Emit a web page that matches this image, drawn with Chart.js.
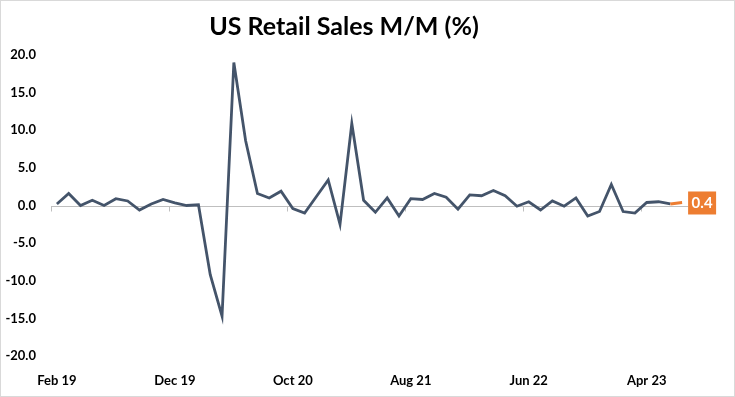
<!DOCTYPE html>
<html>
<head>
<meta charset="utf-8">
<script src="https://cdn.jsdelivr.net/npm/chart.js@4"></script>
<style>
  html, body { margin: 0; padding: 0; background: #fff; }
  #wrap { width: 735px; height: 397px; position: relative; }
</style>
</head>
<body>
<div id="wrap"><canvas id="salesChart"></canvas></div>
<script>
const months = [
  'Feb 19','Mar 19','Apr 19','May 19','Jun 19','Jul 19','Aug 19','Sep 19','Oct 19','Nov 19','Dec 19',
  'Jan 20','Feb 20','Mar 20','Apr 20','May 20','Jun 20','Jul 20','Aug 20','Sep 20','Oct 20','Nov 20','Dec 20',
  'Jan 21','Feb 21','Mar 21','Apr 21','May 21','Jun 21','Jul 21','Aug 21','Sep 21','Oct 21','Nov 21','Dec 21',
  'Jan 22','Feb 22','Mar 22','Apr 22','May 22','Jun 22','Jul 22','Aug 22','Sep 22','Oct 22','Nov 22','Dec 22',
  'Jan 23','Feb 23','Mar 23','Apr 23','May 23','Jun 23','Jul 23'
];
const retailMoM = [
  0.2, 1.6, 0.0, 0.7, 0.0, 0.9, 0.6, -0.6, 0.2, 0.8, 0.35,
  0.0, 0.1, -9.2, -14.7, 19.0, 8.6, 1.6, 1.0, 1.9, -0.4, -1.0, 1.2,
  3.4, -2.5, 10.9, 0.7, -0.9, 1.0, -1.4, 0.9, 0.8, 1.6, 1.1, -0.5,
  1.4, 1.3, 2.0, 1.3, -0.1, 0.5, -0.6, 0.6, -0.1, 1.0, -1.4, -0.8,
  2.8, -0.8, -1.0, 0.4, 0.5, 0.2, 0.4
];
const yTicks = [-20, -15, -10, -5, 0, 5, 10, 15, 20];
const labelEvery = 10;

const slate = '#44546a';
const orange = '#ed7d31';
const axisGray = '#bfbfbf';
const FONT = 'Lato, "Open Sans", sans-serif';
const last = retailMoM.length - 1;

// zero line, small ticks on it, frame and last-value tag
const extras = {
  id: 'extras',
  beforeDatasetsDraw(chart) {
    const { ctx, chartArea, scales } = chart;
    const y0 = Math.round(scales.y.getPixelForValue(0)) + 0.5;
    ctx.save();
    ctx.strokeStyle = axisGray;
    ctx.lineWidth = 1;
    ctx.beginPath();
    ctx.moveTo(chartArea.left, y0);
    ctx.lineTo(chartArea.right, y0);
    const step = (chartArea.right - chartArea.left) / months.length;
    for (let i = 0; i <= months.length; i += labelEvery) {
      const x = Math.round(chartArea.left + i * step) + 0.5;
      ctx.moveTo(x, y0);
      ctx.lineTo(x, y0 + 5);
    }
    ctx.stroke();
    ctx.restore();
  },
  afterDraw(chart) {
    const { ctx, width, height } = chart;
    const pt = chart.getDatasetMeta(0).data[last];
    ctx.save();
    ctx.fillStyle = orange;
    ctx.fillRect(pt.x + 6, pt.y - 11, 28, 23);
    ctx.fillStyle = '#fff';
    ctx.font = 'bold 15px ' + FONT;
    ctx.textAlign = 'center';
    ctx.textBaseline = 'middle';
    ctx.fillText(retailMoM[last].toFixed(1), pt.x + 20, pt.y + 1);
    ctx.strokeStyle = '#d9d9d9';
    ctx.lineWidth = 1;
    ctx.strokeRect(0.5, 0.5, width - 1, height - 1);
    ctx.restore();
  }
};

new Chart(document.getElementById('salesChart'), {
  type: 'line',
  data: {
    labels: months,
    datasets: [{
      data: retailMoM,
      borderColor: slate,
      borderWidth: 2.8,
      pointRadius: 0,
      tension: 0,
      segment: {
        borderColor: c => c.p1DataIndex === last ? orange : slate
      }
    }]
  },
  options: {
    responsive: true,
    maintainAspectRatio: false,
    animation: false,
    layout: { padding: { left: 0, right: 47, top: 0, bottom: 0 } },
    plugins: {
      legend: { display: false },
      tooltip: { enabled: false },
      title: {
        display: true,
        text: 'US Retail Sales M/M (%)',
        color: '#000',
        font: { family: FONT, size: 25, weight: 'bold' },
        padding: { top: 12, bottom: 13 }
      }
    },
    scales: {
      x: {
        offset: true,
        grid: { display: false, drawTicks: false },
        border: { display: false },
        afterFit: s => { s.height = 41; },
        ticks: {
          autoSkip: false,
          maxRotation: 0,
          padding: 17,
          color: '#000',
          font: { family: FONT, size: 13, weight: 'bold' },
          callback: (v, i) => i % labelEvery === 0 ? months[i] : ''
        }
      },
      y: {
        min: yTicks[0],
        max: yTicks[yTicks.length - 1],
        afterBuildTicks: s => { s.ticks = yTicks.map(v => ({ value: v })); },
        afterFit: s => { s.width = 51; },
        grid: { display: false, drawTicks: false },
        border: { display: false },
        ticks: {
          padding: 15,
          color: '#000',
          font: { family: FONT, size: 13, weight: 'bold' },
          callback: v => Number(v).toFixed(1)
        }
      }
    }
  },
  plugins: [extras]
});
</script>
</body>
</html>
